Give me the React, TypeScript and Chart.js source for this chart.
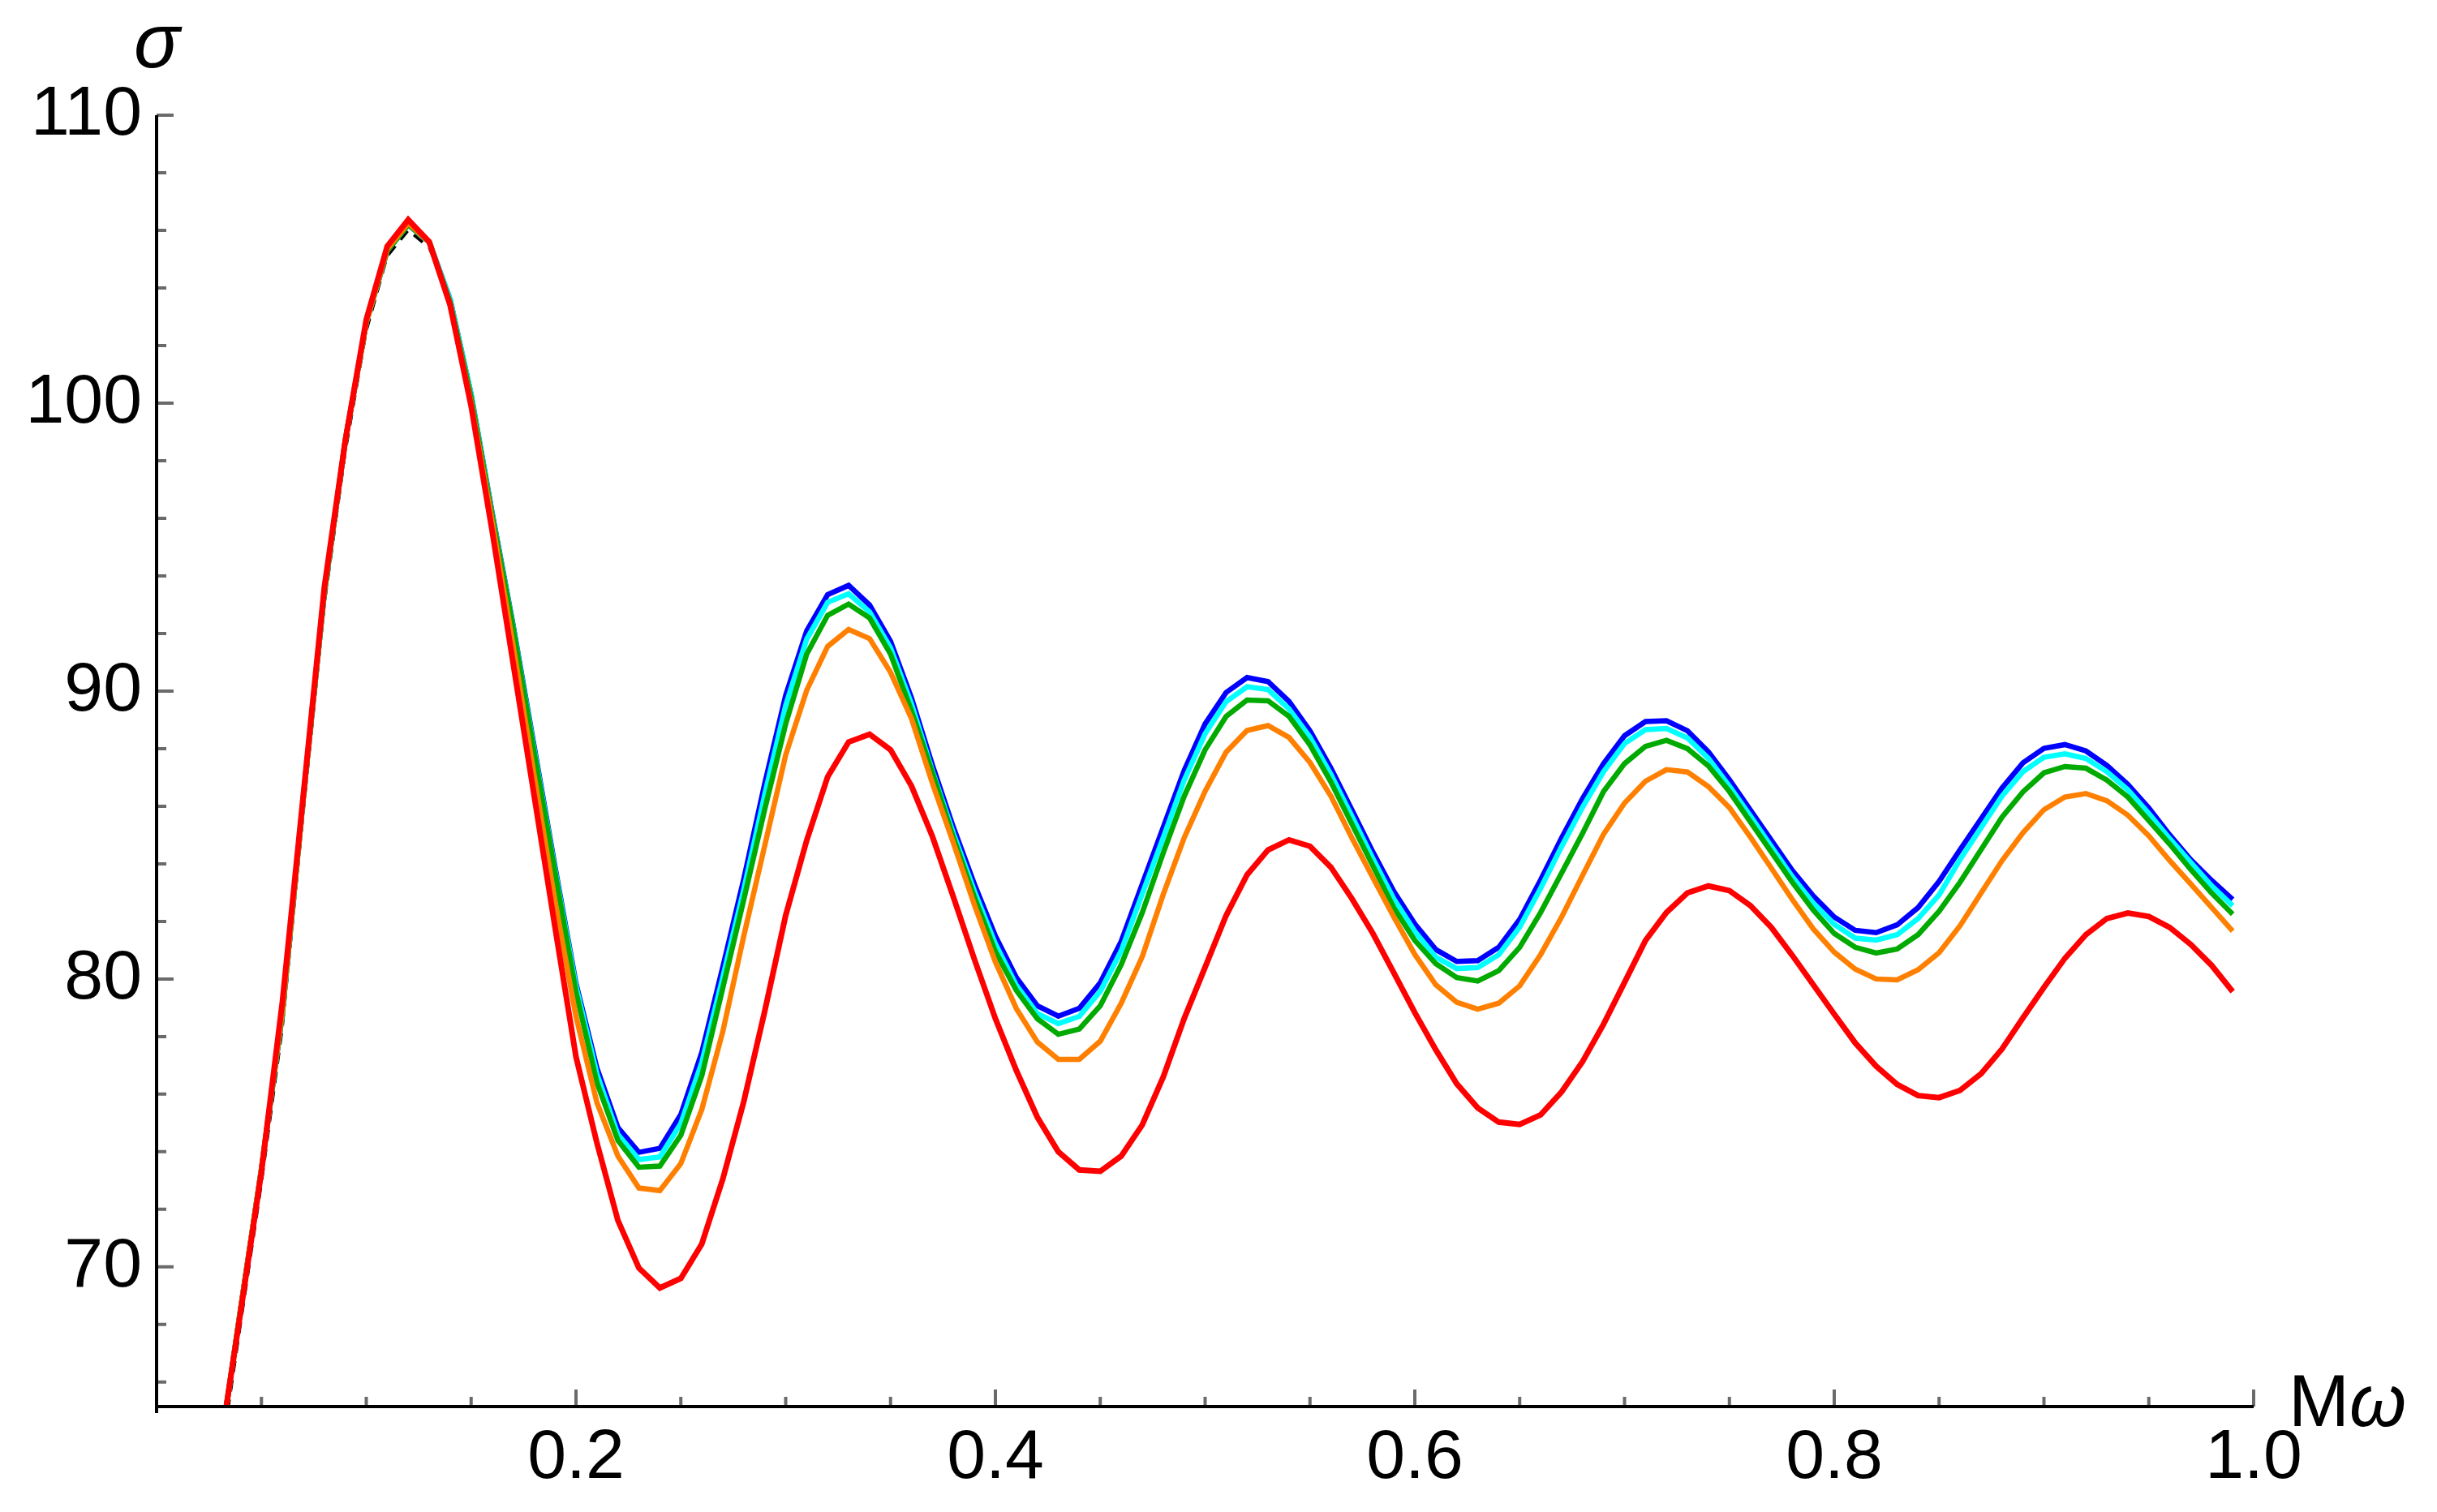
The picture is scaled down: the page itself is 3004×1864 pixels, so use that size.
import React, { useEffect, useRef } from "react";
import { Chart, registerables } from "chart.js";

Chart.register(...registerables);

// Mω sample points
const M_OMEGA = [
  0.03, 0.04, 0.05, 0.06, 0.07, 0.08, 0.09, 0.10, 0.11, 0.12,
  0.13, 0.14, 0.15, 0.16, 0.17, 0.18, 0.19, 0.20, 0.21, 0.22,
  0.23, 0.24, 0.25, 0.26, 0.27, 0.28, 0.29, 0.30, 0.31, 0.32,
  0.33, 0.34, 0.35, 0.36, 0.37, 0.38, 0.39, 0.40, 0.41, 0.42,
  0.43, 0.44, 0.45, 0.46, 0.47, 0.48, 0.49, 0.50, 0.51, 0.52,
  0.53, 0.54, 0.55, 0.56, 0.57, 0.58, 0.59, 0.60, 0.61, 0.62,
  0.63, 0.64, 0.65, 0.66, 0.67, 0.68, 0.69, 0.70, 0.71, 0.72,
  0.73, 0.74, 0.75, 0.76, 0.77, 0.78, 0.79, 0.80, 0.81, 0.82,
  0.83, 0.84, 0.85, 0.86, 0.87, 0.88, 0.89, 0.90, 0.91, 0.92,
  0.93, 0.94, 0.95, 0.96, 0.97, 0.98, 0.99,
];

const SIGMA_BLACK = [
  63.0, 68.0, 72.9, 78.3, 85.8, 93.0, 98.3, 102.5, 105.1, 106.0,
  105.4, 103.6, 100.3, 96.2, 92.3, 88.1, 83.9, 79.85, 76.9, 74.84,
  73.98, 74.12, 75.29, 77.45, 80.41, 83.47, 86.79, 89.85, 92.09, 93.35,
  93.67, 92.99, 91.73, 89.76, 87.42, 85.26, 83.29, 81.49, 80.05, 79.07,
  78.71, 78.98, 79.87, 81.31, 83.29, 85.26, 87.24, 88.86, 89.95, 90.47,
  90.33, 89.64, 88.62, 87.32, 85.87, 84.41, 83.04, 81.91, 81.02, 80.61,
  80.64, 81.10, 82.07, 83.44, 84.90, 86.27, 87.48, 88.45, 88.94, 88.97,
  88.62, 87.89, 86.92, 85.87, 84.82, 83.77, 82.88, 82.15, 81.69, 81.61,
  81.88, 82.48, 83.39, 84.49, 85.56, 86.63, 87.51, 88.01, 88.14, 87.92,
  87.42, 86.76, 85.94, 85.00, 84.14, 83.42, 82.76,
];

const SIGMA_BLUE = [
  63.5, 68.5, 73.4, 78.8, 86.3, 93.4, 98.7, 102.8, 105.3, 106.2,
  105.6, 103.6, 100.3, 96.2, 92.3, 88.1, 83.9, 79.85, 76.9, 74.84,
  73.98, 74.12, 75.29, 77.45, 80.41, 83.47, 86.79, 89.85, 92.09, 93.35,
  93.67, 92.99, 91.73, 89.76, 87.42, 85.26, 83.29, 81.49, 80.05, 79.07,
  78.71, 78.98, 79.87, 81.31, 83.29, 85.26, 87.24, 88.86, 89.95, 90.47,
  90.33, 89.64, 88.62, 87.32, 85.87, 84.41, 83.04, 81.91, 81.02, 80.61,
  80.64, 81.10, 82.07, 83.44, 84.90, 86.27, 87.48, 88.45, 88.94, 88.97,
  88.62, 87.89, 86.92, 85.87, 84.82, 83.77, 82.88, 82.15, 81.69, 81.61,
  81.88, 82.48, 83.39, 84.49, 85.56, 86.63, 87.51, 88.01, 88.14, 87.92,
  87.42, 86.76, 85.94, 85.00, 84.14, 83.42, 82.76,
];

const SIGMA_CYAN = [
  63.5, 68.5, 73.4, 78.8, 86.3, 93.4, 98.7, 102.8, 105.3, 106.2,
  105.6, 103.6, 100.3, 96.15, 92.25, 88.0, 83.8, 79.75, 76.7, 74.6,
  73.73, 73.82, 74.98, 77.1, 80.05, 83.1, 86.4, 89.5, 91.8, 93.08,
  93.38, 92.75, 91.5, 89.55, 87.22, 85.05, 83.05, 81.22, 79.78, 78.8,
  78.45, 78.7, 79.57, 80.98, 82.95, 84.9, 86.9, 88.52, 89.63, 90.15,
  90.05, 89.38, 88.4, 87.1, 85.65, 84.18, 82.78, 81.65, 80.76, 80.36,
  80.40, 80.84, 81.8, 83.15, 84.6, 85.97, 87.2, 88.18, 88.66, 88.70,
  88.37, 87.66, 86.7, 85.66, 84.6, 83.55, 82.64, 81.9, 81.42, 81.35,
  81.54, 82.10, 82.92, 84.15, 85.25, 86.35, 87.2, 87.7, 87.82, 87.66,
  87.20, 86.57, 85.75, 84.87, 84.05, 83.23, 82.54,
];

const SIGMA_GREEN = [
  63.5, 68.5, 73.4, 78.8, 86.3, 93.4, 98.7, 102.8, 105.3, 106.2,
  105.6, 103.5, 100.2, 96.1, 92.2, 87.9, 83.7, 79.55, 76.4, 74.39,
  73.46, 73.50, 74.57, 76.64, 79.69, 82.75, 85.89, 88.86, 91.28, 92.63,
  93.02, 92.54, 91.28, 89.31, 87.15, 84.90, 82.84, 80.95, 79.60, 78.62,
  78.08, 78.26, 79.07, 80.50, 82.30, 84.37, 86.34, 87.96, 89.12, 89.69,
  89.66, 89.12, 88.13, 86.84, 85.38, 83.93, 82.47, 81.34, 80.53, 80.05,
  79.93, 80.29, 81.10, 82.31, 83.68, 85.06, 86.51, 87.48, 88.08, 88.29,
  88.00, 87.40, 86.51, 85.46, 84.41, 83.36, 82.39, 81.58, 81.10, 80.90,
  81.04, 81.54, 82.35, 83.36, 84.49, 85.62, 86.50, 87.16, 87.38, 87.32,
  86.91, 86.32, 85.50, 84.68, 83.80, 82.98, 82.25,
];

const SIGMA_ORANGE = [
  63.5, 68.5, 73.4, 78.9, 86.3, 93.5, 98.7, 102.8, 105.35, 106.25,
  105.6, 103.4, 100.0, 95.9, 91.6, 87.1, 82.7, 78.7, 75.7, 73.85,
  72.74, 72.65, 73.59, 75.47, 78.17, 81.49, 84.63, 87.78, 90.02, 91.55,
  92.14, 91.82, 90.65, 89.04, 86.79, 84.72, 82.57, 80.59, 78.97, 77.81,
  77.21, 77.21, 77.84, 79.16, 80.77, 82.93, 84.90, 86.52, 87.88, 88.63,
  88.80, 88.39, 87.52, 86.35, 84.90, 83.52, 82.15, 80.85, 79.80, 79.19,
  78.95, 79.16, 79.76, 80.85, 82.15, 83.60, 85.03, 86.11, 86.87, 87.27,
  87.19, 86.68, 85.95, 84.93, 83.85, 82.76, 81.74, 80.93, 80.34, 80.00,
  79.97, 80.32, 80.91, 81.85, 82.98, 84.11, 85.08, 85.88, 86.32, 86.44,
  86.19, 85.69, 84.97, 84.11, 83.30, 82.48, 81.66,
];

const SIGMA_RED = [
  63.6, 68.4, 73.3, 79.2, 86.4, 93.6, 98.7, 102.9, 105.45, 106.37,
  105.6, 103.4, 99.9, 95.57, 90.98, 86.39, 81.8, 77.3, 74.3, 71.61,
  69.96, 69.27, 69.60, 70.80, 73.05, 75.74, 78.88, 82.21, 84.81, 87.02,
  88.23, 88.50, 87.96, 86.70, 84.94, 82.84, 80.68, 78.62, 76.82, 75.20,
  74.00, 73.37, 73.32, 73.85, 74.93, 76.59, 78.62, 80.41, 82.2, 83.62,
  84.48, 84.83, 84.61, 83.88, 82.79, 81.58, 80.21, 78.83, 77.54, 76.36,
  75.52, 75.03, 74.95, 75.28, 76.08, 77.13, 78.43, 79.88, 81.34, 82.31,
  82.99, 83.23, 83.07, 82.55, 81.79, 80.82, 79.80, 78.78, 77.78, 76.97,
  76.34, 75.95, 75.88, 76.13, 76.71, 77.57, 78.65, 79.71, 80.72, 81.54,
  82.10, 82.29, 82.17, 81.79, 81.20, 80.47, 79.56,
];

const X_MIN = 0;
const X_MAX = 1.0;
const Y_MIN = 65.15;
const Y_MAX = 110;
const X_MAJOR = [0.2, 0.4, 0.6, 0.8, 1.0];
const X_MINOR = [0.05, 0.1, 0.15, 0.25, 0.3, 0.35, 0.45, 0.5, 0.55, 0.65, 0.7, 0.75, 0.85, 0.9, 0.95];
const Y_MAJOR = [70, 80, 90, 100, 110];
const Y_MINOR = [66, 68, 72, 74, 76, 78, 82, 84, 86, 88, 92, 94, 96, 98, 102, 104, 106, 108];

const FONT = '"Liberation Sans", Arial, sans-serif';

const toPoints = (ys: number[]) => M_OMEGA.map((x, i) => ({ x, y: ys[i] }));

const axesPlugin = {
  id: "mmaAxes",
  afterDraw(chart: any) {
    const { ctx, chartArea, scales } = chart;
    const xs = scales.x;
    const ys = scales.y;
    const x0 = xs.getPixelForValue(X_MIN);
    const x1 = xs.getPixelForValue(X_MAX);
    const yb = ys.getPixelForValue(Y_MIN);
    const yt = ys.getPixelForValue(Y_MAX);
    ctx.save();
    ctx.lineCap = "butt";
    ctx.strokeStyle = "#6a6a6a";
    ctx.lineWidth = 4;
    ctx.beginPath();
    X_MAJOR.forEach((v) => {
      const p = xs.getPixelForValue(v);
      ctx.moveTo(p, yb);
      ctx.lineTo(p, yb - 21);
    });
    X_MINOR.forEach((v) => {
      const p = xs.getPixelForValue(v);
      ctx.moveTo(p, yb);
      ctx.lineTo(p, yb - 12);
    });
    Y_MAJOR.forEach((v) => {
      const p = ys.getPixelForValue(v);
      ctx.moveTo(x0, p);
      ctx.lineTo(x0 + 21, p);
    });
    Y_MINOR.forEach((v) => {
      const p = ys.getPixelForValue(v);
      ctx.moveTo(x0, p);
      ctx.lineTo(x0 + 12, p);
    });
    ctx.stroke();

    ctx.strokeStyle = "#000";
    ctx.lineWidth = 4;
    ctx.beginPath();
    ctx.moveTo(x0, yt);
    ctx.lineTo(x0, yb + 8);
    ctx.moveTo(x0 - 2, yb);
    ctx.lineTo(x1, yb);
    ctx.stroke();

    ctx.fillStyle = "#000";
    ctx.textAlign = "left";
    ctx.textBaseline = "alphabetic";
    ctx.font = `italic 94px ${FONT}`;
    ctx.fillText("σ", chartArea.left - 28, chartArea.top - 59);
    ctx.font = `90px ${FONT}`;
    const mx = chartArea.right + 43;
    const my = chartArea.bottom + 24;
    ctx.fillText("M", mx, my);
    const mw = ctx.measureText("M").width;
    ctx.font = `italic 90px ${FONT}`;
    ctx.fillText("ω", mx + mw, my);
    ctx.restore();
  },
};

export default function App() {
  const canvasRef = useRef<HTMLCanvasElement | null>(null);

  useEffect(() => {
    const canvas = canvasRef.current;
    if (!canvas) return;
    const line = (data: number[], color: string, width: number, order: number, dash: number[] = []) => ({
      data: toPoints(data),
      borderColor: color,
      backgroundColor: color,
      borderWidth: width,
      borderDash: dash,
      pointRadius: 0,
      tension: 0,
      fill: false,
      order,
      borderJoinStyle: "miter" as const,
      borderCapStyle: "butt" as const,
    });
    const chart = new Chart(canvas, {
      type: "line",
      data: {
        datasets: [
          line(SIGMA_BLACK, "#000000", 3.5, 6, [14, 10]),
          line(SIGMA_BLUE, "#0000ff", 6.5, 5),
          line(SIGMA_CYAN, "#00ffff", 6.5, 4),
          line(SIGMA_GREEN, "#00aa00", 6.5, 3),
          line(SIGMA_ORANGE, "#ff8000", 6.5, 2),
          line(SIGMA_RED, "#ff0000", 7, 1),
        ],
      },
      options: {
        animation: false,
        responsive: false,
        devicePixelRatio: 1,
        layout: { padding: { top: 142, right: 226, left: 0, bottom: 0 } },
        plugins: {
          legend: { display: false },
          tooltip: { enabled: false },
        },
        scales: {
          x: {
            type: "linear",
            min: X_MIN,
            max: X_MAX,
            grid: { display: false, drawTicks: false },
            border: { display: false },
            afterBuildTicks: (s: any) => {
              s.ticks = X_MAJOR.map((v) => ({ value: v }));
            },
            afterFit: (s: any) => {
              s.height = 130;
            },
            ticks: {
              autoSkip: false,
              maxRotation: 0,
              padding: 13,
              color: "#000",
              font: { family: FONT, size: 86 },
              callback: (v: any) => Number(v).toFixed(1),
            },
          },
          y: {
            type: "linear",
            min: Y_MIN,
            max: Y_MAX,
            grid: { display: false, drawTicks: false },
            border: { display: false },
            afterBuildTicks: (s: any) => {
              s.ticks = Y_MAJOR.map((v) => ({ value: v }));
            },
            afterFit: (s: any) => {
              s.width = 193;
            },
            ticks: {
              autoSkip: false,
              padding: 18,
              color: "#000",
              font: { family: FONT, size: 86 },
              callback: (v: any) => String(v),
            },
          },
        },
      },
      plugins: [axesPlugin],
    });
    return () => chart.destroy();
  }, []);

  return (
    <div style={{ position: "fixed", left: 0, top: 0, width: "3004px", height: "1864px", background: "#fff" }}>
      <canvas ref={canvasRef} width={3004} height={1864} style={{ display: "block" }} />
    </div>
  );
}
